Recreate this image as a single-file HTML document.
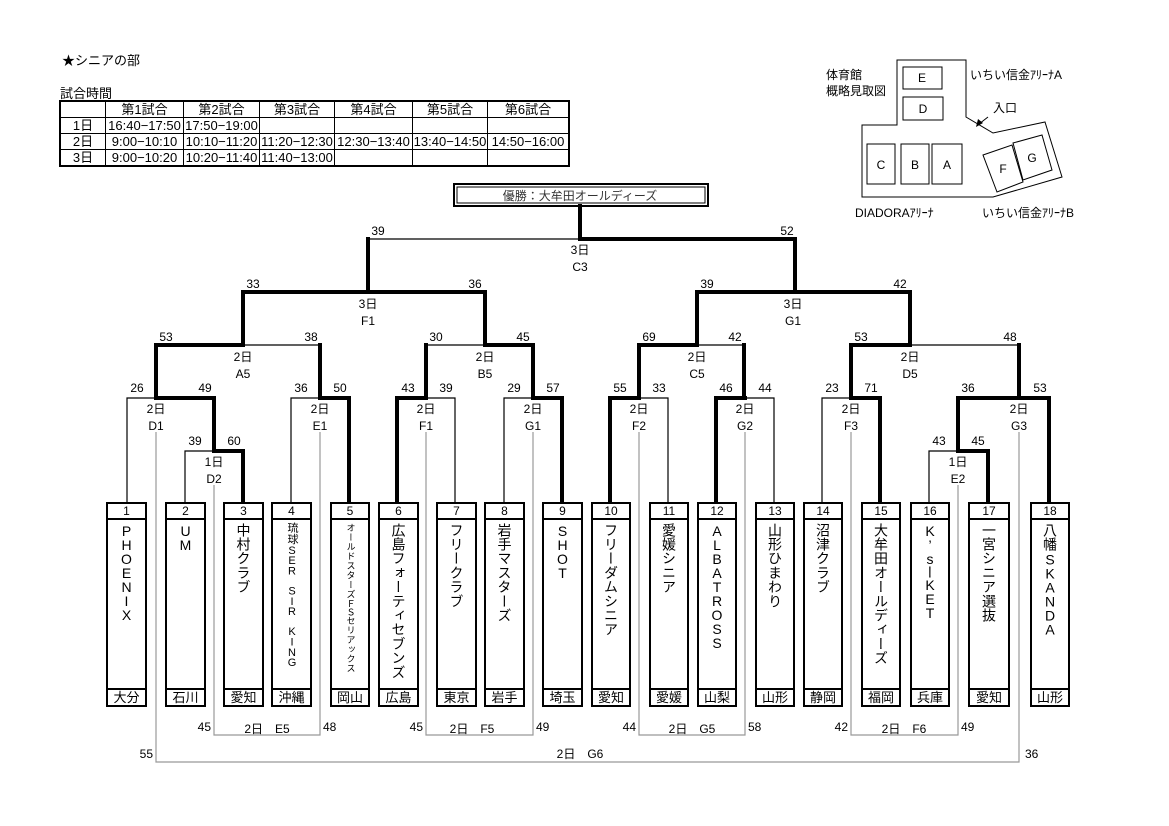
<!DOCTYPE html>
<html><head><meta charset="utf-8">
<style>
html,body{margin:0;padding:0;background:#fff;}
body{width:1169px;height:826px;position:relative;overflow:hidden;font-family:"Liberation Sans","Noto Sans CJK JP",sans-serif;color:#000;}
svg{position:absolute;left:0;top:0;}
svg text{font-family:"Liberation Sans","Noto Sans CJK JP",sans-serif;font-size:12px;}
.box{position:absolute;top:502px;height:201px;border:2px solid #000;box-sizing:content-box;background:#fff;}
.box .n{position:absolute;left:0;right:0;top:0;height:14px;border-bottom:2px solid #000;text-align:center;font-size:12px;line-height:15px;}
.box .p{position:absolute;left:0;right:0;bottom:0;height:15px;border-top:2px solid #000;text-align:center;font-size:13px;line-height:16px;}
.box .t{position:absolute;top:19px;left:0;right:0;display:flex;justify-content:center;}
.box .t span{writing-mode:vertical-rl;text-orientation:upright;font-size:14px;letter-spacing:0.2px;line-height:1;}
.box .t span i{font-style:normal;letter-spacing:-2px;}
table{position:absolute;left:59px;top:100px;border-collapse:collapse;border:2px solid #000;font-size:13px;}
td{border:1px solid #000;padding:0;height:15px;line-height:15px;text-align:center;white-space:nowrap;}
</style></head><body>
<div style="position:absolute;left:62px;top:50px;font-size:13px;">★シニアの部</div>
<div style="position:absolute;left:60px;top:83px;font-size:13px;">試合時間</div>
<table>
<tr><td style="width:44px"></td><td style="width:77px">第1試合</td><td style="width:75px">第2試合</td><td style="width:74px">第3試合</td><td style="width:77px">第4試合</td><td style="width:74px">第5試合</td><td style="width:80px">第6試合</td></tr>
<tr><td>1日</td><td>16:40−17:50</td><td>17:50−19:00</td><td></td><td></td><td></td><td></td></tr>
<tr><td>2日</td><td>9:00−10:10</td><td>10:10−11:20</td><td>11:20−12:30</td><td>12:30−13:40</td><td>13:40−14:50</td><td>14:50−16:00</td></tr>
<tr><td>3日</td><td>9:00−10:20</td><td>10:20−11:40</td><td>11:40−13:00</td><td></td><td></td><td></td></tr>
</table>

<svg width="1169" height="826" viewBox="0 0 1169 826">
<g fill="none" stroke="#000" stroke-width="1">
<polygon points="897,60 966,60 966,117 993,133 1045,122 1062,177 993,197 862,197 862,125 897,125"/>
<rect x="903" y="67" width="39" height="22"/>
<rect x="903" y="97" width="40" height="23"/>
<rect x="867" y="144" width="28" height="40"/>
<rect x="901" y="144" width="28" height="40"/>
<rect x="932" y="144" width="30" height="40"/>
<polygon points="983,155 1012,145 1023,182 997,192"/>
<polygon points="1013,143 1042,135 1052,170 1023,180"/>
<line x1="988" y1="117" x2="979" y2="124"/>
</g>
<polygon points="976,127 978,119 983,123" fill="#000"/>
<g font-size="12" text-anchor="middle">
<text x="922" y="82">E</text><text x="923" y="113">D</text>
<text x="881" y="169">C</text><text x="915" y="169">B</text><text x="947" y="169">A</text>
<text x="1003" y="173">F</text><text x="1032" y="162">G</text>
</g>
<g font-size="12">
<text x="826" y="79">体育館</text><text x="826" y="95">概略見取図</text>
<text x="970" y="79">いちい信金ｱﾘｰﾅA</text>
<text x="993" y="112" font-size="13">入口</text>
<text x="855" y="217">DIADORAｱﾘｰﾅ</text>
<text x="982" y="217">いちい信金ｱﾘｰﾅB</text>
</g>

<rect x="454" y="184" width="254" height="22" fill="none" stroke="#000" stroke-width="2"/>
<rect x="457" y="187" width="248" height="16" fill="none" stroke="#000" stroke-width="1"/>
<text x="580" y="200" text-anchor="middle" font-size="14" fill="#333">優勝：大牟田オールディーズ</text>

<g stroke="#000" stroke-width="1.2" fill="none">
<polyline points="368,292 368,239 580,239"/>
<polyline points="243,345 320,345 320,398"/>
<polyline points="426,398 426,345 485,345"/>
<polyline points="697,345 744,345 744,398"/>
<polyline points="910,345 1019,345"/>
<polyline points="127,502 127,398 156,398"/>
<polyline points="185,502 185,451 214,451"/>
<polyline points="291,502 291,398 320,398"/>
<polyline points="426,398 455,398 455,502"/>
<polyline points="504,502 504,398 533,398"/>
<polyline points="639,398 668,398 668,502"/>
<polyline points="745,398 774,398 774,502"/>
<polyline points="822,502 822,398 851,398"/>
<polyline points="929,502 929,451 958,451"/>
</g>
<g stroke="#000" stroke-width="4" fill="none" stroke-linecap="square">
<polyline points="580,206 580,239 795,239 795,292"/>
<polyline points="368,239 368,292"/>
<polyline points="243,345 243,292 485,292 485,345"/>
<polyline points="697,345 697,292 910,292 910,345"/>
<polyline points="156,398 156,345 243,345"/>
<polyline points="320,345 320,398"/>
<polyline points="426,398 426,345"/>
<polyline points="485,345 533,345 533,398"/>
<polyline points="639,398 639,345 697,345"/>
<polyline points="744,345 744,398"/>
<polyline points="851,398 851,345 910,345"/>
<polyline points="1019,345 1019,398"/>
<polyline points="156,398 214,398 214,451 243,451 243,502"/>
<polyline points="320,398 349,398 349,502"/>
<polyline points="397,502 397,398 426,398"/>
<polyline points="533,398 562,398 562,502"/>
<polyline points="610,502 610,398 639,398"/>
<polyline points="716,502 716,398 745,398"/>
<polyline points="851,398 880,398 880,502"/>
<polyline points="958,451 958,398 1049,398 1049,502"/>
<polyline points="958,451 988,451 988,502"/>
</g>
<g stroke="#999" stroke-width="1.2" fill="none">
<polyline points="156,432 156,762 1019,762 1019,432"/>
<polyline points="214,485 214,735 320,735 320,432"/>
<polyline points="426,432 426,735 533,735 533,432"/>
<polyline points="639,432 639,735 745,735 745,432"/>
<polyline points="851,432 851,735 958,735 958,485"/>
</g>

<g text-anchor="middle" font-size="12">
<text x="580" y="254">3日</text><text x="580" y="271">C3</text>
<text x="378" y="235">39</text><text x="787" y="235">52</text>
<text x="368" y="308">3日</text><text x="368" y="325">F1</text>
<text x="253" y="288">33</text><text x="475" y="288">36</text>
<text x="793" y="308">3日</text><text x="793" y="325">G1</text>
<text x="707" y="288">39</text><text x="900" y="288">42</text>

<text x="243" y="361">2日</text><text x="243" y="378">A5</text>
<text x="166" y="341">53</text><text x="311" y="341">38</text>
<text x="485" y="361">2日</text><text x="485" y="378">B5</text>
<text x="436" y="341">30</text><text x="523" y="341">45</text>
<text x="697" y="361">2日</text><text x="697" y="378">C5</text>
<text x="649" y="341">69</text><text x="735" y="341">42</text>
<text x="910" y="361">2日</text><text x="910" y="378">D5</text>
<text x="861" y="341">53</text><text x="1010" y="341">48</text>

<text x="156" y="413">2日</text><text x="156" y="430">D1</text>
<text x="137" y="392">26</text><text x="205" y="392">49</text>
<text x="320" y="413">2日</text><text x="320" y="430">E1</text>
<text x="301" y="392">36</text><text x="340" y="392">50</text>
<text x="426" y="413">2日</text><text x="426" y="430">F1</text>
<text x="408" y="392">43</text><text x="446" y="392">39</text>
<text x="533" y="413">2日</text><text x="533" y="430">G1</text>
<text x="514" y="392">29</text><text x="553" y="392">57</text>
<text x="639" y="413">2日</text><text x="639" y="430">F2</text>
<text x="620" y="392">55</text><text x="659" y="392">33</text>
<text x="745" y="413">2日</text><text x="745" y="430">G2</text>
<text x="726" y="392">46</text><text x="765" y="392">44</text>
<text x="851" y="413">2日</text><text x="851" y="430">F3</text>
<text x="832" y="392">23</text><text x="871" y="392">71</text>
<text x="1019" y="413">2日</text><text x="1019" y="430">G3</text>
<text x="968" y="392">36</text><text x="1040" y="392">53</text>

<text x="214" y="466">1日</text><text x="214" y="483">D2</text>
<text x="195" y="445">39</text><text x="234" y="445">60</text>
<text x="958" y="466">1日</text><text x="958" y="483">E2</text>
<text x="939" y="445">43</text><text x="978" y="445">45</text>

<text x="267" y="733">2日　E5</text>
<text x="472" y="733">2日　F5</text>
<text x="692" y="733">2日　G5</text>
<text x="904" y="733">2日　F6</text>
<text x="580" y="758">2日　G6</text>
</g>
<g font-size="12">
<text x="211" y="731" text-anchor="end">45</text><text x="323" y="731">48</text>
<text x="423" y="731" text-anchor="end">45</text><text x="536" y="731">49</text>
<text x="636" y="731" text-anchor="end">44</text><text x="748" y="731">58</text>
<text x="848" y="731" text-anchor="end">42</text><text x="961" y="731">49</text>
<text x="153" y="758" text-anchor="end">55</text><text x="1025" y="758">36</text>
</g>
</svg>

<div class="box" style="left:106px;width:37px"><div class="n">1</div><div class="t"><span><i>PHOENIX</i></span></div><div class="p">大分</div></div>
<div class="box" style="left:165px;width:37px"><div class="n">2</div><div class="t"><span><i>UM</i></span></div><div class="p">石川</div></div>
<div class="box" style="left:223px;width:37px"><div class="n">3</div><div class="t"><span>中村クラブ</span></div><div class="p">愛知</div></div>
<div class="box" style="left:271px;width:37px"><div class="n">4</div><div class="t" style="top:18px"><span style="font-size:11px;letter-spacing:0.4px">琉球<i style="letter-spacing:-1.6px">SER　SIR　KING</i></span></div><div class="p">沖縄</div></div>
<div class="box" style="left:330px;width:36px"><div class="n">5</div><div class="t" style="top:19px"><span style="font-size:9px;letter-spacing:0.5px">オールドスターズ<i style="letter-spacing:-0.5px">ＦＳ</i>セリアックス</span></div><div class="p">岡山</div></div>
<div class="box" style="left:378px;width:37px"><div class="n">6</div><div class="t"><span>広島フォーティセブンズ</span></div><div class="p">広島</div></div>
<div class="box" style="left:436px;width:37px"><div class="n">7</div><div class="t"><span>フリークラブ</span></div><div class="p">東京</div></div>
<div class="box" style="left:484px;width:37px"><div class="n">8</div><div class="t"><span>岩手マスターズ</span></div><div class="p">岩手</div></div>
<div class="box" style="left:542px;width:37px"><div class="n">9</div><div class="t"><span><i>SHOT</i></span></div><div class="p">埼玉</div></div>
<div class="box" style="left:591px;width:36px"><div class="n">10</div><div class="t"><span>フリーダムシニア</span></div><div class="p">愛知</div></div>
<div class="box" style="left:649px;width:36px"><div class="n">11</div><div class="t"><span>愛媛シニア</span></div><div class="p">愛媛</div></div>
<div class="box" style="left:697px;width:36px"><div class="n">12</div><div class="t"><span><i>ALBATROSS</i></span></div><div class="p">山梨</div></div>
<div class="box" style="left:755px;width:36px"><div class="n">13</div><div class="t"><span>山形ひまわり</span></div><div class="p">山形</div></div>
<div class="box" style="left:803px;width:36px"><div class="n">14</div><div class="t"><span>沼津クラブ</span></div><div class="p">静岡</div></div>
<div class="box" style="left:861px;width:36px"><div class="n">15</div><div class="t"><span>大牟田オールディーズ</span></div><div class="p">福岡</div></div>
<div class="box" style="left:910px;width:36px"><div class="n">16</div><div class="t"><span><i>K’sーKET</i></span></div><div class="p">兵庫</div></div>
<div class="box" style="left:968px;width:38px"><div class="n">17</div><div class="t"><span>一宮シニア選抜</span></div><div class="p">愛知</div></div>
<div class="box" style="left:1030px;width:36px"><div class="n">18</div><div class="t"><span>八幡<i>SKANDA</i></span></div><div class="p">山形</div></div>
</body></html>
